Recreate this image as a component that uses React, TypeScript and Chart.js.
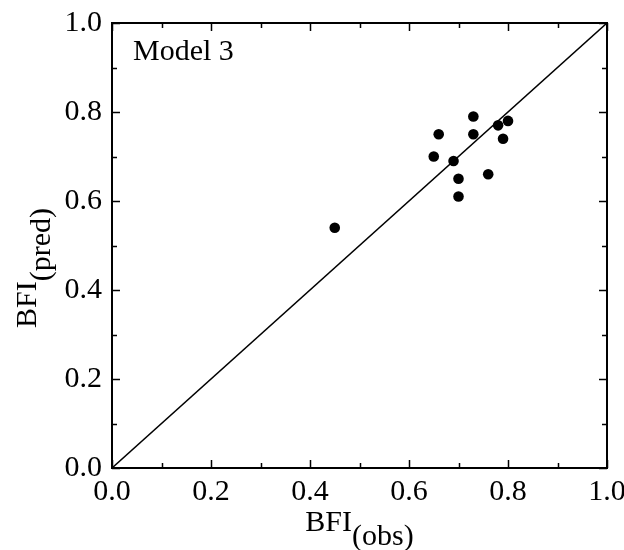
import React, { useEffect, useRef } from "react";
import { Chart, registerables } from "chart.js";

Chart.register(...registerables);

const obsValues = [0.73, 0.66, 0.73, 0.78, 0.80, 0.79, 0.65, 0.69, 0.70, 0.76, 0.70, 0.45];
const predValues = [0.79, 0.75, 0.75, 0.77, 0.78, 0.74, 0.70, 0.69, 0.65, 0.66, 0.61, 0.54];
const lineX = [0, 1];
const lineY = [0, 1];
const modelLabel = "Model 3";
const xTitleMain = "BFI";
const xTitleSub = "(obs)";
const yTitleMain = "BFI";
const yTitleSub = "(pred)";

const FONT = '"Liberation Serif", "Times New Roman", serif';

const framePlugin = {
  id: "frame",
  afterDatasetsDraw(chart: any) {
    const { ctx, chartArea, scales } = chart;
    const { left, right, top, bottom } = chartArea;
    const xs = scales.x;
    const ys = scales.y;
    ctx.save();
    ctx.strokeStyle = "#000";
    ctx.lineWidth = 2;
    ctx.strokeRect(left, top, right - left, bottom - top);
    ctx.lineWidth = 1.5;
    ctx.beginPath();
    xs.ticks.forEach((t: any) => {
      const px = Math.round(xs.getPixelForValue(t.value)) + 0.5;
      const major = Math.round(t.value * 10) % 2 === 0;
      const len = major ? 8 : 5;
      ctx.moveTo(px, bottom);
      ctx.lineTo(px, bottom - len);
      ctx.moveTo(px, top);
      ctx.lineTo(px, top + len);
    });
    ys.ticks.forEach((t: any) => {
      const py = Math.round(ys.getPixelForValue(t.value)) + 0.5;
      const major = Math.round(t.value * 10) % 2 === 0;
      const len = major ? 8 : 5;
      ctx.moveTo(left, py);
      ctx.lineTo(left + len, py);
      ctx.moveTo(right, py);
      ctx.lineTo(right - len, py);
    });
    ctx.stroke();
    ctx.restore();
  },
  afterDraw(chart: any) {
    const { ctx, chartArea } = chart;
    const { left, right, top } = chartArea;
    ctx.save();
    ctx.fillStyle = "#000";
    ctx.font = `30px ${FONT}`;
    ctx.textBaseline = "alphabetic";
    ctx.textAlign = "left";
    ctx.fillText(modelLabel, left + 21, top + 37);
    const w1 = ctx.measureText(xTitleMain).width;
    const w2 = ctx.measureText(xTitleSub).width;
    const cx = (left + right) / 2;
    const sx = cx - (w1 + w2) / 2;
    ctx.fillText(xTitleMain, sx, 531);
    ctx.fillText(xTitleSub, sx + w1, 545);
    const v1 = ctx.measureText(yTitleMain).width;
    const v2 = ctx.measureText(yTitleSub).width;
    ctx.translate(36, 268);
    ctx.rotate(-Math.PI / 2);
    const sy = -(v1 + v2) / 2;
    ctx.fillText(yTitleMain, sy, 0);
    ctx.fillText(yTitleSub, sy + v1, 14);
    ctx.restore();
  },
};

export default function App() {
  const ref = useRef<HTMLCanvasElement | null>(null);
  useEffect(() => {
    if (!ref.current) return;
    const fmt = (v: any) => {
      const n = Number(v);
      return Math.round(n * 10) % 2 === 0 ? n.toFixed(1) : "";
    };
    const chart = new Chart(ref.current, {
      type: "scatter",
      data: {
        datasets: [
          {
            label: "points",
            data: obsValues.map((x, i) => ({ x, y: predValues[i] })),
            backgroundColor: "#000",
            borderColor: "#000",
            pointRadius: 5.3,
            pointBorderWidth: 0,
          },
          {
            type: "line",
            label: "1:1",
            data: lineX.map((x, i) => ({ x, y: lineY[i] })),
            borderColor: "#000",
            borderWidth: 1.5,
            pointRadius: 0,
            fill: false,
          } as any,
        ],
      },
      options: {
        animation: false,
        responsive: false,
        devicePixelRatio: 1,
        layout: { padding: { top: 23, right: 17, left: 0, bottom: 0 } },
        plugins: {
          legend: { display: false },
          tooltip: { enabled: false },
        },
        scales: {
          x: {
            type: "linear",
            min: 0,
            max: 1,
            border: { display: false },
            grid: { drawOnChartArea: false, drawTicks: false },
            ticks: {
              stepSize: 0.1,
              autoSkip: false,
              maxRotation: 0,
              padding: 6,
              color: "#000",
              font: { family: FONT, size: 30 },
              callback: fmt,
            },
            afterFit: (s: any) => {
              s.height = 82;
              s.paddingLeft = 0;
              s.paddingRight = 0;
            },
          },
          y: {
            type: "linear",
            min: 0,
            max: 1,
            border: { display: false },
            grid: { drawOnChartArea: false, drawTicks: false },
            ticks: {
              stepSize: 0.1,
              autoSkip: false,
              padding: 10,
              color: "#000",
              font: { family: FONT, size: 30 },
              callback: fmt,
            },
            afterFit: (s: any) => {
              s.width = 112;
              s.paddingTop = 0;
              s.paddingBottom = 0;
            },
          },
        },
      },
      plugins: [framePlugin],
    });
    return () => chart.destroy();
  }, []);
  return (
    <div style={{ position: "absolute", left: 0, top: 0, width: 624, height: 550, background: "#fff" }}>
      <canvas ref={ref} width={624} height={550} style={{ width: 624, height: 550 }} />
    </div>
  );
}
